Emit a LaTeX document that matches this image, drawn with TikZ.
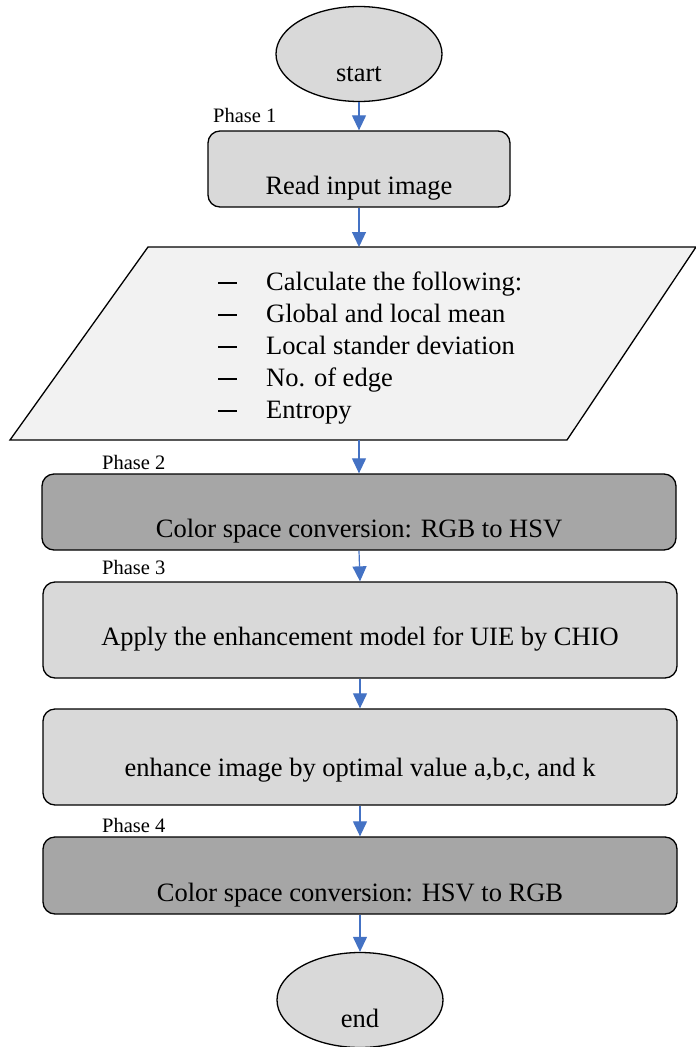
\documentclass[tikz,border=0pt]{standalone}
\usepackage{fontspec}
\setmainfont{Liberation Serif}
\usetikzlibrary{positioning,shapes.geometric,arrows.meta}

\definecolor{boxlight}{RGB}{217,217,217}
\definecolor{boxdark}{RGB}{166,166,166}
\definecolor{paralight}{RGB}{242,242,242}
\definecolor{arrowblue}{RGB}{68,114,196}

\begin{document}
\begin{tikzpicture}[x=1pt,y=1pt,yscale=-1,xscale=1,
  flowbox/.style={draw, line width=1.3pt, rounded corners=12pt, inner sep=0pt, text depth=6pt, font=\fontsize{26.5}{32}\selectfont},
  lightbox/.style={flowbox, fill=boxlight},
  darkbox/.style={flowbox, fill=boxdark},
  terminal/.style={ellipse, draw, line width=1.3pt, fill=boxlight, inner sep=0pt, minimum width=166pt, minimum height=95pt, text height=60pt, text depth=6pt, font=\fontsize{26.5}{32}\selectfont},
  phase/.style={anchor=base west, inner sep=0pt, font=\fontsize{20.5}{24}\selectfont},
  flow/.style={draw=arrowblue, line width=1.2pt, -{Triangle[length=15pt,width=14pt]}}]

\useasboundingbox (0,0) rectangle (696,1047);

% Terminal
\draw (359,54) node [terminal] (start) {start};
% Text Node
\draw (213,122) node [phase] (phase1) {Phase 1};
% Process
\draw (359,169) node [lightbox, minimum width=302pt, minimum height=76pt, text height=56pt] (read) {Read input image};

%Parallelogram
\draw [line width=1.3pt, fill=paralight] (148,247) -- (696,247) -- (567,440) -- (10,440) -- cycle;
\coordinate (calctop) at (359,247);
\coordinate (calcbot) at (359,440);
% Text Node
\draw (218,272) node [anchor=north west, inner sep=0pt, align=left, font=\fontsize{26.5}{32}\selectfont] (calc)
  {\makebox[48pt][l]{\rule[7pt]{19pt}{2.2pt}}Calculate the following:\\
   \makebox[48pt][l]{\rule[7pt]{19pt}{2.2pt}}Global and local mean\\
   \makebox[48pt][l]{\rule[7pt]{19pt}{2.2pt}}Local stander deviation\\
   \makebox[48pt][l]{\rule[7pt]{19pt}{2.2pt}}No. of edge\\
   \makebox[48pt][l]{\rule[7pt]{19pt}{2.2pt}}Entropy};

% Text Node
\draw (102,469) node [phase] (phase2) {Phase 2};
% Process
\draw (359,512) node [darkbox, minimum width=634pt, minimum height=76pt, text height=56pt] (rgbhsv) {Color space conversion: RGB to HSV};
% Text Node
\draw (102,574) node [phase] (phase3) {Phase 3};
% Process
\draw (360,630) node [lightbox, minimum width=634pt, minimum height=96pt, text height=36pt] (chio) {Apply the enhancement model for UIE by CHIO};
% Process
\draw (360,757) node [lightbox, minimum width=634pt, minimum height=96pt, text height=44pt] (enhance) {enhance image by optimal value a,b,c, and k};
% Text Node
\draw (102,832) node [phase] (phase4) {Phase 4};
% Process
\draw (360,875.5) node [darkbox, minimum width=634pt, minimum height=77pt, text height=58pt] (hsvrgb) {Color space conversion: HSV to RGB};
% Terminal
\draw (360,1000) node [terminal] (stop) {end};

%Straight Lines
\draw [flow] (start.south) -- (read.north);
\draw [flow] (read.south) -- (calctop);
\draw [flow] (calcbot) -- (rgbhsv.north);
\draw [flow] (rgbhsv.south) -- (chio.north);
\draw [flow] (chio.south) -- (enhance.north);
\draw [flow] (enhance.south) -- (hsvrgb.north);
\draw [flow] (hsvrgb.south) -- (stop.north);

\end{tikzpicture}
\end{document}
